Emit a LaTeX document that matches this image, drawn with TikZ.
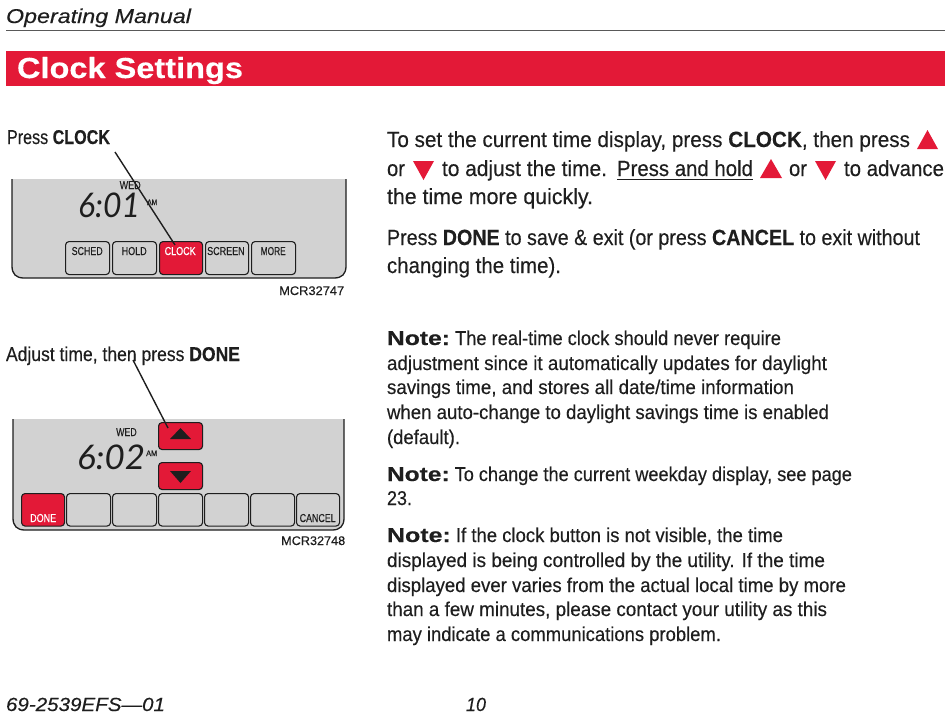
\documentclass[tikz,border=0pt]{standalone}
\usepackage{fontspec}
\setmainfont{Liberation Sans}[FakeBold=0.3]
\newfontfamily\lcdf{Lato}
\definecolor{hwred}{HTML}{E31937}
\definecolor{lcd}{HTML}{D2D2D2}
\definecolor{ink}{HTML}{1E1E1E}
\newsavebox\fitbox
\newcommand\fit[2]{\sbox\fitbox{#2}\pgfmathsetmacro\fitr{#1/\the\wd\fitbox}\scalebox{\fitr}[1]{\usebox\fitbox}}
\newcommand\notew{\scalebox{1.35}[1]{\textbf{Note:}}}
\tikzset{
  txt/.style={anchor=base west,inner sep=0pt,outer sep=0pt,text=ink,font=\fontsize{#1}{#1}\selectfont},
  txt/.default=22,
  btn/.style={draw=ink,line width=1.1pt,rounded corners=3.5pt,fill=lcd,inner sep=0pt},
  redbtn/.style={btn,fill=hwred},
  btxt/.style={anchor=base west,inner sep=0pt,text=#1,font=\fontsize{11.5}{11.5}\selectfont},
  btxt/.default=ink,
  lcdt/.style={anchor=base west,inner sep=0pt,text=ink,font=\lcdf\itshape\fontsize{34}{34}\selectfont},
  panel/.style={fill=lcd},
  edge/.style={line width=1.3pt,draw=ink},
  rtri/.style={fill=hwred,draw=none},
  ktri/.style={fill=ink,draw=none},
  leader/.style={draw=ink,line width=1.4pt},
}
\begin{document}
\begin{tikzpicture}[x=1pt,y=-1pt]
\useasboundingbox (0,0) rectangle (950,716);
% header
\node[txt=20,font=\itshape\fontsize{20}{20}\selectfont] (hd) at (6,23) {\fit{185}{Operating Manual}};
\coordinate (ruleL) at (6,30); \coordinate (ruleR) at (945,30);
\draw[line width=.9pt,black!65] (ruleL) -- (ruleR);
\fill[hwred] (6,51) rectangle (945,86);
\node[txt=29,text=white,font=\bfseries\fontsize{29}{29}\selectfont] (title) at (17,78) {\fit{226}{Clock Settings}};
% left panel 1
\node[txt=20] (l1) at (7,144) {\fit{103}{Press \textbf{CLOCK}}};
\fill[panel] (12,179) -- (12,266) .. controls (12,274) and (16,278) .. (24,278) -- (334,278) .. controls (342,278) and (346,274) .. (346,266) -- (346,179) -- cycle;
\draw[edge] (12,179) -- (12,266) .. controls (12,274) and (16,278) .. (24,278) -- (334,278) .. controls (342,278) and (346,274) .. (346,266) -- (346,179);
\foreach \nm/\xa/\w/\sty in {bs/65/44/btn,bh/112/44/btn,bc/159/43/redbtn,bsc/205/43/btn,bm/251/44/btn}{
  \node[\sty,anchor=north west,minimum width=\w pt,minimum height=33pt] (\nm) at (\xa,241) {};
}
\node[btxt] (ts) at (71.5,255) {\fit{31}{SCHED}};
\node[btxt] (th) at (121.5,255) {\fit{25}{HOLD}};
\node[btxt=white] (tc) at (164.5,255) {\fit{31}{CLOCK}};
\node[btxt] (tsc) at (207,255) {\fit{37.5}{SCREEN}};
\node[btxt] (tm) at (260.5,255) {\fit{25}{MORE}};
\node[lcdt] (t1) at (78,217) {\fit{62}{6:01}};
\node[btxt] (w1) at (119.5,189) {\fit{21}{WED}};
\node[btxt,font=\fontsize{8}{8}\selectfont] (a1) at (147,205) {\fit{10}{AM}};
\node[btxt,font=\fontsize{12.5}{12.5}\selectfont] (c1) at (279,295) {\fit{65}{MCR32747}};
\coordinate (lead1) at (115,152);
\coordinate (lead1e) at (175,245);
\draw[leader] (lead1) -- (lead1e);
% left panel 2
\node[txt=20] (l2) at (6,361) {\fit{234}{Adjust time, then press \textbf{DONE}}};
\fill[panel] (13,419) -- (13,518) .. controls (13,526) and (17,530) .. (25,530) -- (332,530) .. controls (340,530) and (344,526) .. (344,518) -- (344,419) -- cycle;
\draw[edge] (13,419) -- (13,518) .. controls (13,526) and (17,530) .. (25,530) -- (332,530) .. controls (340,530) and (344,526) .. (344,518) -- (344,419);
\foreach \nm/\xa/\w/\sty in {bd/21/43/redbtn,b2/66/44/btn,b3/112/44/btn,b4/158/44/btn,b5/204/44/btn,b6/250/44/btn,bx/296/43/btn}{
  \node[\sty,anchor=north west,minimum width=\w pt,minimum height=32.5pt] (\nm) at (\xa,493) {};
}
\node[redbtn,anchor=north west,minimum width=44pt,minimum height=27pt] (up) at (158,422) {};
\node[redbtn,anchor=north west,minimum width=44pt,minimum height=27pt] (dn) at (158,462) {};
\fill[ktri] (170,439) -- (180.5,428) -- (191,439) -- cycle;
\fill[ktri] (170,471) -- (191,471) -- (180.5,483) -- cycle;
\node[btxt=white] (td) at (30,522) {\fit{26}{DONE}};
\node[btxt] (tx) at (299.5,522) {\fit{36}{CANCEL}};
\node[lcdt] (t2) at (77,469) {\fit{68}{6:02}};
\node[btxt] (w2) at (116,436) {\fit{20.5}{WED}};
\node[btxt,font=\fontsize{8}{8}\selectfont] (a2) at (146,456) {\fit{11}{AM}};
\node[btxt,font=\fontsize{12.5}{12.5}\selectfont] (c2) at (281,545) {\fit{64}{MCR32748}};
\coordinate (lead2) at (133,360);
\coordinate (lead2e) at (168,428);
\draw[leader] (lead2) -- (lead2e);
% right block
\node[txt] (r1) at (387,147) {\fit{523}{To set the current time display, press \textbf{CLOCK}, then press}};
\fill[rtri] (917,149) -- (927.5,130) -- (938,149) -- cycle;
\node[txt] (r2a) at (387,176) {\fit{18}{or}};
\fill[rtri] (413,161) -- (434,161) -- (423.5,180) -- cycle;
\node[txt] (r2b) at (442,176) {\fit{165}{to adjust the time.}};
\node[txt] (r2c) at (617,176) {\fit{136}{Press and hold}};
\coordinate (uL) at (617,179.5); \coordinate (uR) at (753,179.5);
\draw[line width=1.1pt,ink] (uL) -- (uR);
\fill[rtri] (760,178) -- (771,159) -- (782,178) -- cycle;
\node[txt] (r2d) at (789,176) {\fit{18}{or}};
\fill[rtri] (815,161) -- (836,161) -- (825.5,180) -- cycle;
\node[txt] (r2e) at (844,176) {\fit{100}{to advance}};
\node[txt] (r3) at (387,204) {\fit{206}{the time more quickly.}};
\node[txt] (r4) at (387,245) {\fit{533}{Press \textbf{DONE} to save \& exit (or press \textbf{CANCEL} to exit without}};
\node[txt] (r5) at (387,273) {\fit{174}{changing the time).}};
% notes
\node[txt=20] (n1) at (387,345) {\fit{394}{\notew{} The real-time clock should never require}};
\node[txt=20] (n2) at (387,370) {\fit{440}{adjustment since it automatically updates for daylight}};
\node[txt=20] (n3) at (387,394) {\fit{407}{savings time, and stores all date/time information}};
\node[txt=20] (n4) at (387,419) {\fit{442}{when auto-change to daylight savings time is enabled}};
\node[txt=20] (n5) at (387,444) {\fit{73}{(default).}};
\node[txt=20] (n6) at (387,481) {\fit{465}{\notew{} To change the current weekday display, see page}};
\node[txt=20] (n7) at (387,505) {\fit{25}{23.}};
\node[txt=20] (n8) at (387,542) {\fit{396}{\notew{} If the clock button is not visible, the time}};
\node[txt=20] (n9) at (387,567) {\fit{438}{displayed is being controlled by the utility. If the time}};
\node[txt=20] (n10) at (387,592) {\fit{459}{displayed ever varies from the actual local time by more}};
\node[txt=20] (n11) at (387,616) {\fit{440}{than a few minutes, please contact your utility as this}};
\node[txt=20] (n12) at (387,641) {\fit{334}{may indicate a communications problem.}};
% footer
\node[txt=19,font=\itshape\fontsize{19}{19}\selectfont] (f1) at (6,711) {\fit{159}{69-2539EFS—01}};
\node[txt=19,font=\itshape\fontsize{19}{19}\selectfont] (f2) at (466,711) {\fit{20}{10}};
\end{tikzpicture}
\end{document}
